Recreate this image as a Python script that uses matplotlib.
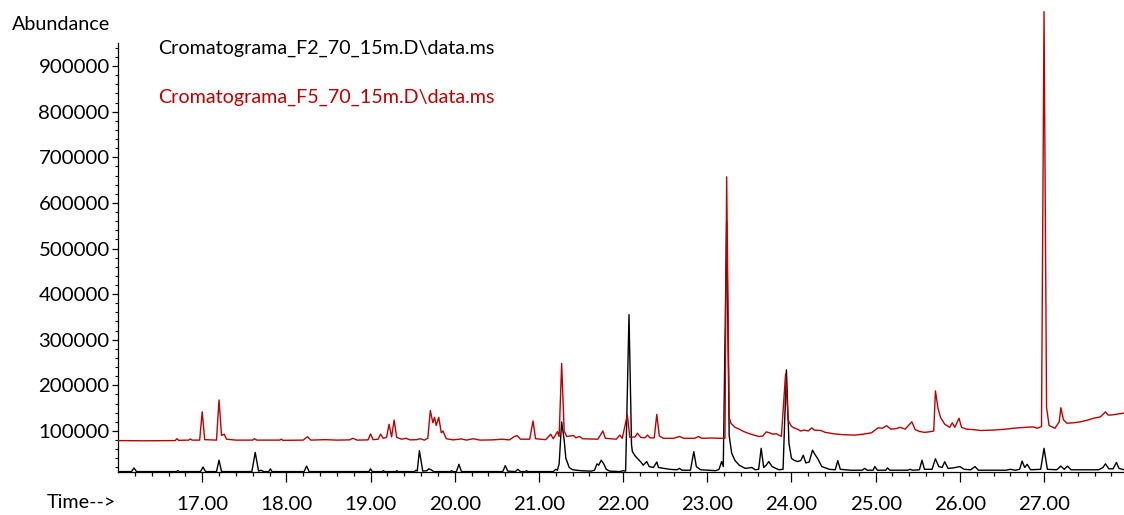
import matplotlib
matplotlib.use("Agg")
import matplotlib.pyplot as plt
from matplotlib.ticker import FixedLocator, FormatStrFormatter

# ── Trace vertices (time [min], abundance) ──
f2_time = [
    16.00, 16.16, 16.19, 16.22, 16.69, 16.71, 16.73, 16.98, 17.01, 17.04,
    17.17, 17.20, 17.23, 17.59, 17.63, 17.67, 17.70, 17.73, 17.79, 17.81,
    17.83, 18.21, 18.24, 18.27, 18.98, 19.00, 19.02, 19.14, 19.15, 19.17,
    19.30, 19.31, 19.33, 19.52, 19.54, 19.555, 19.58, 19.62, 19.67, 19.69,
    19.72, 19.75, 19.95, 19.96, 19.98, 20.02, 20.05, 20.08, 20.57, 20.60,
    20.63, 20.72, 20.75, 20.78, 20.84, 20.85, 20.87, 21.17, 21.20, 21.22,
    21.24, 21.27, 21.30, 21.32, 21.36, 21.40, 21.50, 21.62, 21.66, 21.69,
    21.71, 21.74, 21.77, 21.80, 21.84, 21.96, 22.00, 22.03, 22.07, 22.10,
    22.11, 22.14, 22.17, 22.21, 22.24, 22.28, 22.31, 22.36, 22.40, 22.42,
    22.55, 22.64, 22.67, 22.70, 22.80, 22.84, 22.87, 22.92, 23.10, 23.14,
    23.17, 23.19, 23.23, 23.26, 23.29, 23.33, 23.38, 23.45, 23.53, 23.57,
    23.61, 23.64, 23.67, 23.70, 23.73, 23.77, 23.85, 23.90, 23.94, 23.97,
    24.00, 24.03, 24.07, 24.11, 24.14, 24.17, 24.21, 24.25, 24.28, 24.31,
    24.36, 24.45, 24.52, 24.55, 24.58, 24.70, 24.84, 24.87, 24.90, 24.97,
    24.99, 25.02, 25.12, 25.14, 25.17, 25.38, 25.41, 25.44, 25.52, 25.55,
    25.58, 25.67, 25.71, 25.75, 25.79, 25.82, 25.86, 25.92, 26.00, 26.05,
    26.13, 26.18, 26.22, 26.55, 26.60, 26.66, 26.71, 26.74, 26.77, 26.80,
    26.84, 26.96, 27.00, 27.04, 27.15, 27.20, 27.24, 27.28, 27.32, 27.65,
    27.70, 27.73, 27.77, 27.82, 27.86, 27.89, 27.95,
]
f2_abund = [
    11000, 11000, 19000, 11000, 11000, 13000, 11000, 11000, 21000, 11000,
    11000, 36000, 11000, 11000, 53000, 12000, 14000, 11000, 11000, 17000,
    11000, 11000, 23000, 11000, 11000, 17000, 11000, 11000, 13000, 11000,
    11000, 13000, 11000, 11000, 14000, 12000, 57000, 12000, 13000, 17000,
    15000, 11000, 11000, 13000, 11000, 11000, 27000, 11000, 11000, 24000,
    12000, 11000, 16000, 11000, 11000, 13000, 11000, 11000, 16000, 14000,
    28000, 120000, 80000, 40000, 20000, 15000, 13000, 12000, 14000, 28000,
    25000, 36000, 28000, 16000, 12000, 11000, 13000, 12000, 355000, 70000,
    55000, 46000, 40000, 32000, 25000, 33000, 22000, 20000, 32000, 20000,
    16000, 15000, 18000, 14000, 14000, 55000, 22000, 15000, 13000, 16000,
    33000, 22000, 560000, 90000, 51000, 35000, 25000, 18000, 20000, 15000,
    16000, 62000, 20000, 25000, 33000, 22000, 15000, 16000, 234000, 73000,
    40000, 36000, 33000, 35000, 47000, 30000, 32000, 58000, 48000, 40000,
    22000, 16000, 15000, 35000, 16000, 14000, 14000, 18000, 14000, 14000,
    22000, 14000, 14000, 19000, 14000, 14000, 16000, 14000, 15000, 36000,
    16000, 16000, 39000, 22000, 20000, 32500, 18000, 19000, 22000, 16000,
    15000, 22000, 14000, 14000, 16000, 14000, 16000, 34000, 20000, 27000,
    15000, 16000, 62000, 16000, 15000, 23000, 16000, 23000, 15000, 15000,
    20000, 28000, 17000, 17000, 31000, 18000, 15000,
]

f5_time = [
    16.00, 16.30, 16.60, 16.68, 16.70, 16.72, 16.84, 16.86, 16.88, 16.97,
    17.00, 17.03, 17.17, 17.20, 17.23, 17.26, 17.29, 17.40, 17.60, 17.62,
    17.65, 17.92, 17.94, 17.96, 18.20, 18.25, 18.29, 18.46, 18.60, 18.75,
    18.79, 18.84, 18.97, 19.00, 19.03, 19.09, 19.12, 19.15, 19.19, 19.22,
    19.25, 19.28, 19.31, 19.37, 19.42, 19.47, 19.55, 19.59, 19.64, 19.68,
    19.71, 19.74, 19.76, 19.78, 19.81, 19.84, 19.86, 19.90, 19.98, 20.08,
    20.14, 20.22, 20.30, 20.45, 20.56, 20.65, 20.70, 20.74, 20.78, 20.89,
    20.93, 20.96, 21.08, 21.14, 21.17, 21.22, 21.24, 21.27, 21.30, 21.33,
    21.41, 21.44, 21.48, 21.52, 21.70, 21.76, 21.79, 21.92, 21.96, 21.99,
    22.05, 22.08, 22.14, 22.17, 22.21, 22.26, 22.29, 22.32, 22.37, 22.40,
    22.43, 22.48, 22.60, 22.67, 22.72, 22.85, 22.90, 22.93, 23.05, 23.15,
    23.21, 23.23, 23.26, 23.28, 23.33, 23.38, 23.43, 23.50, 23.61, 23.66,
    23.70, 23.74, 23.78, 23.82, 23.88, 23.93, 23.96, 23.97, 24.00, 24.04,
    24.07, 24.11, 24.15, 24.20, 24.24, 24.27, 24.35, 24.40, 24.50, 24.60,
    24.75, 24.85, 24.95, 25.03, 25.08, 25.13, 25.18, 25.24, 25.29, 25.35,
    25.43, 25.47, 25.52, 25.58, 25.63, 25.69, 25.71, 25.74, 25.77, 25.82,
    25.88, 25.91, 25.94, 25.99, 26.02, 26.08, 26.16, 26.25, 26.40, 26.55,
    26.63, 26.70, 26.78, 26.87, 26.92, 26.97, 27.00, 27.03, 27.04, 27.06,
    27.13, 27.18, 27.20, 27.23, 27.27, 27.35, 27.43, 27.52, 27.59, 27.67,
    27.73, 27.76, 27.80, 27.87, 27.95,
]
f5_abund = [
    79000, 78500, 79000, 79000, 83000, 79500, 80000, 82500, 80000, 80000,
    142000, 81000, 80000, 168000, 90000, 93000, 82000, 80000, 80000, 83000,
    80000, 80000, 82000, 79500, 80000, 87500, 80000, 81000, 80000, 80500,
    84000, 80000, 80500, 93500, 81000, 82000, 93000, 84000, 86000, 114600,
    87000, 124000, 86000, 82000, 84000, 80500, 81000, 83000, 80000, 84000,
    145000, 118000, 130000, 112000, 130000, 96000, 100000, 83000, 80500, 82500,
    80000, 83000, 80000, 80500, 82000, 80500, 87000, 90000, 82000, 82000,
    122000, 83000, 81000, 93000, 83000, 98500, 88000, 248000, 100000, 88000,
    90000, 85000, 88000, 83000, 82000, 100000, 84000, 82000, 91000, 84000,
    135000, 86000, 87000, 95000, 86000, 85000, 91000, 85000, 85000, 136500,
    89000, 84000, 84000, 88000, 84000, 84000, 88000, 84000, 84500, 84000,
    84000, 657000, 130000, 117000, 108000, 104000, 99000, 94000, 88000, 89000,
    98000, 96000, 93000, 94000, 88000, 225000, 125000, 120000, 110000, 106000,
    104000, 100000, 102000, 100000, 107000, 102000, 101000, 97000, 94000, 92000,
    91000, 93000, 96000, 107000, 106000, 111600, 104000, 105000, 108000, 104000,
    120000, 103000, 99000, 97000, 98000, 100000, 188000, 150000, 130000, 115000,
    108000, 118000, 108000, 128000, 108000, 104000, 103000, 101000, 102000, 104000,
    106000, 107000, 108000, 109000, 106000, 110000, 1019000, 150000, 139000, 112000,
    106000, 120000, 151000, 125000, 117000, 118000, 120000, 124000, 128000, 131000,
    142000, 135000, 135000, 137000, 139000,
]

F2_LABEL = r'Cromatograma_F2_70_15m.D\data.ms'
F5_LABEL = r'Cromatograma_F5_70_15m.D\data.ms'

x_major = [17, 18, 19, 20, 21, 22, 23, 24, 25, 26, 27]
x_minor = [16 + 0.2 * i for i in range(1, 60)]
y_major = [100000, 200000, 300000, 400000, 500000, 600000, 700000, 800000, 900000]
y_minor = [20000 * i for i in range(1, 48)]

RED = '#C00000'

plt.rcParams.update({'font.family': 'Lato', 'font.size': 14})

fig = plt.figure(figsize=(11.24, 5.15), dpi=100)
ax = fig.add_axes([118 / 1124, 43 / 515, 1006 / 1124, 472 / 515])

ax.plot(f2_time, f2_abund, color='black', lw=1.0, zorder=2)
ax.plot(f5_time, f5_abund, color=RED, lw=1.0, zorder=3)

ax.set_xlim(16.0, 27.95)
ax.set_ylim(10100, 1044700)

for s in ('top', 'right'):
    ax.spines[s].set_visible(False)
ax.spines['left'].set_bounds(10100, 950000)
ax.spines['left'].set_linewidth(0.9)
ax.spines['bottom'].set_linewidth(0.9)

ax.xaxis.set_major_locator(FixedLocator(x_major))
ax.xaxis.set_minor_locator(FixedLocator([t for t in x_minor if abs(t - round(t)) > 0.01]))
ax.xaxis.set_major_formatter(FormatStrFormatter('%.2f'))
ax.yaxis.set_major_locator(FixedLocator(y_major))
ax.yaxis.set_minor_locator(FixedLocator([v for v in y_minor if v % 100000]))
ax.yaxis.set_major_formatter(FormatStrFormatter('%d'))

ax.tick_params(axis='x', which='major', length=7, width=0.9, pad=10, labelsize=14.7)
ax.tick_params(axis='x', which='minor', length=3, width=0.9)
ax.tick_params(axis='y', which='major', length=4, width=0.9, pad=2, labelsize=14.7)
ax.tick_params(axis='y', which='minor', length=2, width=0.8)

fig.text(12 / 1124, 1 - 24 / 515, 'Abundance', fontsize=14.2, va='center', ha='left')
fig.text(47 / 1124, 1 - 502 / 515, 'Time-->', fontsize=14.2, va='center', ha='left')
fig.text(158 / 1124, 1 - 48 / 515, F2_LABEL, fontsize=14.2, color='black',
         va='center', ha='left')
fig.text(158 / 1124, 1 - 97 / 515, F5_LABEL, fontsize=14.2, color=RED,
         va='center', ha='left')

fig.savefig('out.png', dpi=100, facecolor='white')
